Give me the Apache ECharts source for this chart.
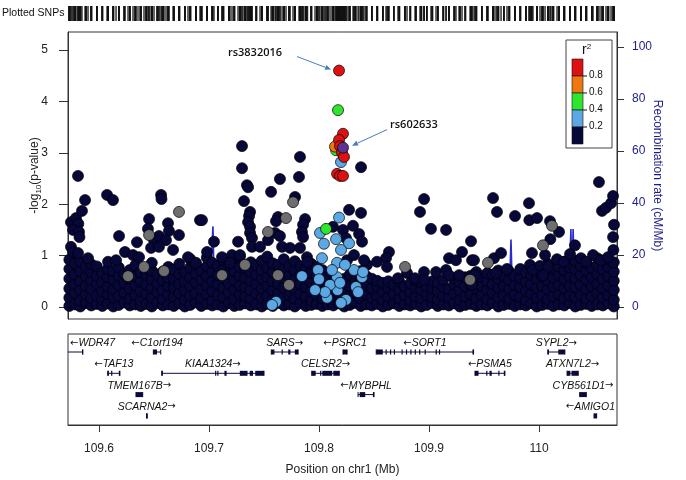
<!DOCTYPE html>
<html><head><meta charset="utf-8">
<script src="https://cdn.jsdelivr.net/npm/echarts@6/dist/echarts.min.js"></script>
<style>html,body{margin:0;padding:0;background:#fff}#c{width:686px;height:480px}</style>
</head><body><div id="c"></div><script>
// ---------------- DATA ----------------
const xMin = 109.5718, xMax = 110.0709;
const xTicks = [109.6, 109.7, 109.8, 109.9, 110];
const pTicks = [0, 1, 2, 3, 4, 5];
const recombTicks = [0, 20, 40, 60, 80, 100];
const ldBreaks = [0.2, 0.4, 0.6, 0.8];
const ldColors = ['#07073a', '#5ba8e4', '#2ee62e', '#ee7711', '#dd1111'];

// dense low band of r2<0.2 SNPs: [position (Mb), [-log10 p values]]
const snpsLowBand = [
[109.573,[0.02,0.18,0.36,0.55,0.74,0.92]],[109.578,[0.05,0.27,0.44,0.63,0.85]],[109.583,[0.01,0.12,0.33,0.51,0.7,0.88]],
[109.588,[0.08,0.24,0.41,0.6,0.78]],[109.593,[0.03,0.17,0.35,0.52,0.68,0.83]],[109.598,[0.06,0.22,0.45,0.61,0.79]],
[109.603,[0.02,0.14,0.3,0.49,0.66]],[109.608,[0.07,0.25,0.4,0.58,0.74]],[109.613,[0.01,0.19,0.34,0.53,0.7]],
[109.618,[0.04,0.21,0.43,0.6,0.77]],[109.623,[0.09,0.28,0.47,0.64]],[109.628,[0.03,0.16,0.36,0.55,0.72]],
[109.633,[0.05,0.23,0.42,0.59,0.81]],[109.638,[0.02,0.13,0.31,0.5,0.67]],[109.643,[0.06,0.26,0.44,0.62,0.76]],
[109.648,[0.01,0.18,0.37,0.54,0.71,0.86]],[109.653,[0.08,0.29,0.46,0.63]],[109.658,[0.03,0.15,0.33,0.52,0.69]],
[109.663,[0.05,0.24,0.41,0.57,0.78]],[109.668,[0.02,0.2,0.38,0.55,0.73]],[109.673,[0.07,0.27,0.45,0.64,0.84]],
[109.678,[0.01,0.14,0.32,0.5,0.68]],[109.683,[0.04,0.22,0.4,0.59,0.77,0.93]],[109.688,[0.09,0.26,0.48,0.65,0.82]],
[109.693,[0.02,0.17,0.35,0.53,0.71]],[109.698,[0.06,0.25,0.43,0.6,0.79,0.96]],[109.703,[0.03,0.13,0.31,0.5,0.69,0.86]],
[109.708,[0.05,0.23,0.44,0.62,0.8]],[109.713,[0.01,0.19,0.37,0.56,0.74,0.91]],[109.718,[0.08,0.28,0.46,0.64,0.83]],
[109.723,[0.02,0.15,0.34,0.52,0.7,0.88]],[109.728,[0.04,0.24,0.42,0.61,0.78,0.97]],[109.733,[0.07,0.21,0.39,0.57,0.75]],
[109.738,[0.03,0.16,0.33,0.51,0.69,0.87]],[109.743,[0.05,0.26,0.45,0.63,0.81]],[109.748,[0.01,0.18,0.36,0.55,0.72,0.9]],
[109.753,[0.06,0.22,0.41,0.59,0.77,0.98]],[109.758,[0.02,0.14,0.32,0.5,0.68,0.85]],[109.763,[0.08,0.27,0.46,0.64,0.82]],
[109.768,[0.03,0.19,0.38,0.56,0.74,0.93]],[109.773,[0.05,0.23,0.43,0.61,0.79]],[109.778,[0.01,0.16,0.35,0.53,0.71,0.89]],
[109.783,[0.07,0.25,0.44,0.62,0.8]],[109.788,[0.02,0.2,0.39,0.57,0.75]],[109.793,[0.04,0.13,0.31,0.48,0.66,0.84]],
[109.798,[0.06,0.24,0.42,0.6,0.78]],[109.803,[0.02,0.17,0.36,0.54,0.72]],[109.808,[0.05,0.22,0.4,0.58]],
[109.813,[0.03,0.15,0.33,0.49]],[109.818,[0.07,0.26,0.44]],[109.823,[0.01,0.19,0.37,0.55]],
[109.828,[0.04,0.21,0.41,0.63]],[109.833,[0.08,0.28,0.47,0.65]],[109.838,[0.02,0.16,0.34,0.52,0.7]],
[109.843,[0.05,0.24,0.42,0.6]],[109.848,[0.03,0.18,0.36,0.55]],[109.853,[0.06,0.22,0.4,0.51]],
[109.858,[0.01,0.14,0.3,0.47]],[109.863,[0.04,0.2,0.37,0.5]],[109.868,[0.07,0.25,0.43]],
[109.873,[0.02,0.16,0.33,0.49]],[109.878,[0.05,0.23,0.4]],[109.883,[0.03,0.13,0.29,0.46]],
[109.888,[0.06,0.21,0.38,0.52]],[109.893,[0.01,0.17,0.34,0.48]],[109.898,[0.04,0.24,0.41]],
[109.903,[0.08,0.19,0.36,0.5]],[109.908,[0.02,0.15,0.31,0.47]],[109.913,[0.05,0.22,0.39,0.53]],
[109.918,[0.03,0.18,0.35]],[109.923,[0.07,0.26,0.44,0.56]],[109.928,[0.01,0.14,0.32,0.49]],
[109.933,[0.04,0.21,0.4,0.58]],[109.938,[0.06,0.25,0.43,0.61]],[109.943,[0.02,0.17,0.36,0.52,0.68]],
[109.948,[0.05,0.23,0.41,0.59]],[109.953,[0.03,0.15,0.34,0.5,0.66]],[109.958,[0.08,0.27,0.45,0.63]],
[109.963,[0.01,0.19,0.38,0.55,0.71]],[109.968,[0.04,0.22,0.42,0.6]],[109.973,[0.06,0.16,0.35,0.53,0.69]],
[109.978,[0.02,0.24,0.43,0.61]],[109.983,[0.05,0.2,0.39,0.57,0.74]],[109.988,[0.03,0.13,0.31,0.5,0.67]],
[109.993,[0.07,0.26,0.44,0.62,0.78]],[109.998,[0.01,0.18,0.37,0.55,0.72]],[110.003,[0.04,0.23,0.41,0.59,0.76]],
[110.008,[0.06,0.15,0.34,0.52,0.7,0.84]],[110.013,[0.02,0.21,0.4,0.58,0.75]],[110.018,[0.05,0.25,0.43,0.61,0.79]],
[110.023,[0.03,0.17,0.36,0.54,0.72,0.88]],[110.028,[0.08,0.22,0.41,0.6,0.77]],[110.033,[0.01,0.19,0.38,0.56,0.74,0.9]],
[110.038,[0.04,0.24,0.44,0.62,0.8]],[110.043,[0.06,0.16,0.35,0.53,0.71,0.86]],[110.048,[0.02,0.21,0.4,0.58,0.76]],
[110.053,[0.05,0.27,0.45,0.63,0.81,0.95]],[110.058,[0.03,0.18,0.37,0.55,0.73]],[110.063,[0.07,0.23,0.42,0.6,0.78,0.92]],
[110.068,[0.01,0.14,0.33,0.51,0.69,0.87]]
];
// scattered r2<0.2 SNPs above the band
const snpsLowScattered = [
[109.5809,2.55],[109.5745,1.65],[109.5791,1.73],[109.5812,1.62],[109.5764,1.5],[109.5818,1.46],[109.5822,1.36],
[109.5745,1.17],[109.5764,1.07],[109.5809,1.05],[109.59,0.95],[109.5873,2.08],[109.5845,1.87],[109.6073,2.18],
[109.6127,2.08],[109.6182,1.38],[109.6345,1.26],[109.6564,2.18],[109.6568,2.1],[109.6918,1.69],[109.6455,1.71],
[109.6445,1.52],[109.6627,1.63],[109.6636,1.48],[109.6727,1.4],[109.65,1.3],[109.6545,1.38],[109.6609,1.3],
[109.6473,1.15],[109.6545,1.17],[109.6673,1.11],[109.6236,1.07],[109.6309,1.01],[109.6364,0.97],[109.6809,0.97],
[109.6882,0.86],[109.6082,0.88],[109.6155,0.91],
[109.73,3.13],[109.73,2.7],[109.7827,2.92],[109.7818,2.53],[109.7645,2.49],[109.7345,2.37],[109.7355,2.33],
[109.7564,2.24],[109.7318,2.06],[109.7782,2.14],[109.7373,1.85],[109.7364,1.77],[109.7355,1.65],[109.7373,1.56],
[109.6936,1.69],[109.7627,1.75],[109.7609,1.67],[109.7873,1.71],[109.7855,1.6],[109.7845,1.46],[109.7855,1.36],
[109.76,1.44],[109.7645,1.38],[109.7045,1.27],[109.7264,1.27],[109.7373,1.44],[109.7391,1.34],[109.7391,1.17],
[109.7464,1.17],[109.7536,1.3],[109.7664,1.17],[109.7736,1.15],[109.7827,1.15],[109.7891,0.97],[109.7895,0.88],
[109.6982,1.07],[109.7118,0.97],[109.7209,1.01],[109.7282,1.01],[109.7191,0.86],[109.8127,1.56],
[109.8382,2.72],[109.8955,2.1],[109.8918,1.85],[109.9018,1.52],[109.9155,1.5],[109.8273,1.89],[109.8382,1.83],
[109.8309,1.58],[109.8218,1.5],[109.8364,1.42],[109.8391,1.27],[109.8245,1.34],[109.8636,1.07],[109.8609,0.95],
[109.8527,0.88],[109.8436,0.82],[109.9382,1.28],[109.93,1.07],[109.9182,0.95],[109.9245,0.91],[109.9391,0.91],
[109.8618,0.78],[109.88,0.66],[109.8955,0.68],[109.9064,0.68],[109.9155,0.72],[109.9182,0.62],[109.9273,0.62],
[109.8718,0.56],[109.8873,0.56],[109.8955,0.53],[109.8255,0.91],[109.8318,1.01],[109.8409,0.91],
[110.0545,2.43],[109.9582,2.12],[109.9618,1.85],[109.9782,1.77],[109.9909,2.02],[109.9912,1.69],[109.9982,1.73],
[110.01,1.67],[110.0182,1.46],[110.0103,1.32],[110.0055,1.01],[109.9936,1.05],[110.0164,0.93],[110.0227,0.88],
[110.0573,1.87],[110.0609,1.93],[110.0655,2.02],[110.0673,2.16],[110.0682,1.6],[110.0673,1.36],[110.0676,1.11],
[110.0327,1.2],[110.0282,1.03],[110.0382,0.95],[110.0491,1.01],[109.9409,0.91],[109.9591,0.95],[109.9655,1.05],
[109.9609,0.66],[109.9418,0.62],[109.9391,0.43],[109.9709,0.74],[109.9918,0.82],[109.9945,0.72],[110.0009,0.8],
[110.0082,0.78],[110.0036,0.62],[110.0427,0.88],[110.0564,0.91],[110.0627,0.97]
];
const snpsNoLD = [
[109.6727,1.85],[109.6455,1.4],[109.6409,0.78],[109.6591,0.7],[109.6264,0.6],[109.7764,2.04],[109.77,1.73],
[109.7536,1.46],[109.7327,0.82],[109.7118,0.62],[109.7627,0.62],[109.7727,0.43],[109.8782,0.78],[110.0118,1.58],
[110.0036,1.2],[109.9536,0.86],[109.9373,0.53]
];
const snpsLD02 = [
[109.8009,1.44],[109.8045,1.23],[109.8155,1.32],[109.8182,1.74],[109.82,2.82],[109.8273,1.24],[109.8164,0.86],
[109.7845,0.6],[109.7991,0.72],[109.8,0.54],[109.8073,0.18],[109.7609,0.1],[109.7573,0.04],[109.8318,0.72],
[109.8391,0.58],[109.84,0.68],[109.8336,0.39],[109.8355,0.29],[109.8245,0.14],[109.82,0.08],[109.8164,0.58],
[109.8168,0.33],[109.82,1.11],[109.81,0.43],[109.8055,0.29],[109.8191,0.47],[109.8118,0.72],[109.7964,0.33],
[109.8027,0.95],[109.8236,0.82]
];
const snpsLD04 = [[109.8173,3.83],[109.8155,3.05],[109.8064,1.52]];
const snpsLD06 = [[109.8145,3.12]];
const snpsLD08 = [[109.8182,4.6],[109.8218,3.37],[109.8182,3.25],[109.8191,3.13],[109.8209,3.0],[109.8227,2.92],
[109.8164,2.59],[109.8191,2.55],[109.8218,2.55]];
const refSNP = [[109.8218,3.1]];
const annotSNPs = ['rs3832016', 'rs602633'];
const annotPos = [109.8182, 109.8218];
const annotLogP = [4.6, 3.1];

const recombPos = [109.572,109.59,109.61,109.63,109.65,109.67,109.69,109.7,109.702,109.7036,109.705,109.72,109.74,109.76,
109.78,109.8,109.82,109.84,109.86,109.88,109.9,109.92,109.94,109.96,109.973,109.9745,109.976,109.99,110.01,110.027,
110.029,110.03,110.031,110.0325,110.045,110.06,110.071];
const recombRate = [1.2,0.8,2.1,0.5,1.5,0.9,3.2,5,17,31,2,1.1,0.6,1.8,0.7,0.4,2.5,0.9,0.3,1.2,0.6,1.5,0.8,2.2,4,26,3,1.0,1.6,3,30,8,30,4,1.2,2.0,0.8];

const geneNames  = ['WDR47','C1orf194','SARS','PSRC1','SORT1','SYPL2','TAF13','KIAA1324','CELSR2','PSMA5','ATXN7L2','TMEM167B','MYBPHL','CYB561D1','SCARNA2','AMIGO1'];
const geneStrand = ['-','-','+','-','-','+','-','+','+','-','+','+','-','+','+','-'];
const geneRow    = [0,0,0,0,0,0,1,1,1,1,1,2,2,2,3,3];
const geneStart  = [109.505,109.6494,109.7566,109.8218,109.852,110.008,109.6079,109.657,109.7934,109.9418,110.0255,109.6336,109.8355,110.037,109.6432,110.050];
const geneEnd    = [109.5852,109.6561,109.781,109.8255,109.9405,110.0235,109.619,109.750,109.8184,109.969,110.0357,109.6397,109.850,110.043,109.6436,110.0524];
const geneExons  = [
 [[109.5845,109.5852]],
 [[109.6494,109.6527]],
 [[109.7566,109.7595],[109.766,109.767],[109.772,109.774],[109.778,109.781]],
 [[109.8218,109.8255]],
 [[109.852,109.858],[109.8605,109.8615],[109.8645,109.8655],[109.868,109.869],[109.875,109.876],[109.879,109.88],[109.883,109.884],[109.887,109.888],[109.891,109.892],[109.896,109.897],[109.906,109.907],[109.909,109.91],[109.9395,109.9405]],
 [[110.008,110.009],[110.0175,110.0235]],
 [[109.6079,109.609],[109.611,109.612],[109.618,109.619]],
 [[109.657,109.658],[109.7055,109.7065],[109.7075,109.7085],[109.714,109.716],[109.728,109.735],[109.737,109.740],[109.742,109.750]],
 [[109.7934,109.797],[109.801,109.802],[109.803,109.812],[109.813,109.8184]],
 [[109.9418,109.945],[109.952,109.953],[109.955,109.957],[109.963,109.964],[109.968,109.969]],
 [[110.0255,110.0285],[110.0295,110.0355]],
 [[109.6336,109.6397]],
 [[109.837,109.842],[109.849,109.850]],
 [[110.037,110.043]],
 [[109.6432,109.6436]],
 [[110.050,110.0524]]
];

// ---------------- CHART ----------------
const FONT = '"Liberation Sans", Arial, sans-serif';
const chart = echarts.init(document.getElementById('c'), null, {renderer: 'canvas'});
const band = snpsLowBand.flatMap(([p, vs]) => vs.map(v => [p, v]));
const navy = band.concat(snpsLowScattered);
const rugData = [].concat(navy, snpsNoLD, snpsLD02, snpsLD04, snpsLD06, snpsLD08, refSNP).map(d => [d[0], 0.5]);
const recombData = recombPos.map((p, i) => [p, recombRate[i]]);

function ptSeries(data, color, z) {
  return {type: 'scatter', xAxisIndex: 1, yAxisIndex: 1, data, symbol: 'circle', symbolSize: 11,
    itemStyle: {color, borderColor: '#000', borderWidth: 0.7, opacity: 1}, z, silent: true};
}
const meas = document.createElement('canvas').getContext('2d');
const GENE_FONT = 'italic 10.5px "Liberation Sans"';
const ARROW_FONT = '10px "DejaVu Sans"';
const geneColor = '#0a0a3a';
function renderGene(params, api) {
  const i = params.dataIndex;
  const cs = params.coordSys;
  const lineY = cs.y + 18 + geneRow[i] * 21.3;
  const xs = api.coord([geneStart[i], 0])[0], xe = api.coord([geneEnd[i], 0])[0];
  const x0 = Math.max(xs, cs.x), x1 = Math.min(xe, cs.x + cs.width);
  const ch = [];
  ch.push({type: 'line', shape: {x1: x0, y1: lineY, x2: x1, y2: lineY}, style: {stroke: geneColor, lineWidth: 1}});
  [xs, xe].forEach(x => { if (x >= cs.x && x <= cs.x + cs.width) ch.push({type: 'line', shape: {x1: x, y1: lineY - 2.5, x2: x, y2: lineY + 2.5}, style: {stroke: geneColor, lineWidth: 1}}); });
  geneExons[i].forEach(([a, b]) => {
    const xa = api.coord([a, 0])[0], xb = api.coord([b, 0])[0];
    ch.push({type: 'rect', shape: {x: xa, y: lineY - 2.5, width: Math.max(xb - xa, 1.2), height: 5}, style: {fill: geneColor}});
  });
  const plus = geneStrand[i] === '+';
  const label = plus ? geneNames[i] + '{a|\u2192}' : '{a|\u2190}' + geneNames[i];
  meas.font = GENE_FONT;
  let w = meas.measureText(geneNames[i]).width;
  meas.font = ARROW_FONT;
  w += meas.measureText('\u2192').width;
  let cx = (x0 + x1) / 2;
  cx = Math.max(cs.x + 2 + w / 2, Math.min(cs.x + cs.width - 2 - w / 2, cx));
  ch.push({type: 'text', style: {text: label, x: cx, y: lineY - 9, align: 'center', verticalAlign: 'middle', font: GENE_FONT, fill: '#111',
    rich: {a: {font: ARROW_FONT, fill: '#111'}}}});
  return {type: 'group', children: ch};
}

const option = {
  animation: false,
  backgroundColor: '#fff',
  textStyle: {fontFamily: FONT},
  grid: [
    {left: 68, width: 549, top: 6, height: 15, show: false},
    {left: 68, width: 549, top: 32, height: 287, show: true, borderColor: '#333', borderWidth: 1, backgroundColor: 'transparent'},
    {left: 68, width: 549, top: 334, height: 91, show: true, borderColor: '#333', borderWidth: 1, backgroundColor: 'transparent'}
  ],
  xAxis: [
    {gridIndex: 0, type: 'value', min: xMin, max: xMax, show: false},
    {gridIndex: 1, type: 'value', min: xMin, max: xMax, show: false},
    {gridIndex: 2, type: 'value', min: xMin, max: xMax,
     axisLine: {show: true, onZero: false, lineStyle: {color: '#333'}},
     axisTick: {show: true, customValues: xTicks, length: 7, lineStyle: {color: '#333'}},
     axisLabel: {customValues: xTicks, margin: 18, fontSize: 12, color: '#222', fontFamily: FONT},
     splitLine: {show: false},
     name: 'Position on chr1 (Mb)', nameLocation: 'middle', nameGap: 39, nameMoveOverlap: false,
     nameTextStyle: {fontSize: 12, color: '#222', fontFamily: FONT}}
  ],
  yAxis: [
    {gridIndex: 0, type: 'value', min: 0, max: 1, show: false},
    {gridIndex: 1, type: 'value', min: -0.2335, max: 5.35, position: 'left',
     axisLine: {show: true, onZero: false, lineStyle: {color: '#333'}},
     axisTick: {show: true, customValues: pTicks, length: 9, lineStyle: {color: '#333'}},
     axisLabel: {customValues: pTicks, margin: 20, fontSize: 12, color: '#222', fontFamily: FONT},
     splitLine: {show: false},
     name: '-log{sub|10}(p-value)', nameLocation: 'middle', nameGap: 25, nameRotate: 90, nameMoveOverlap: false,
     nameTextStyle: {fontSize: 12, color: '#222', fontFamily: FONT, lineHeight: 16,
       rich: {sub: {fontSize: 8, lineHeight: 8, verticalAlign: 'bottom', color: '#222', fontFamily: FONT}}}},
    {gridIndex: 1, type: 'value', min: -4.615, max: 105.77, position: 'right',
     axisLine: {show: true, onZero: false, lineStyle: {color: '#333'}},
     axisTick: {show: true, customValues: recombTicks, length: 7, lineStyle: {color: '#333'}},
     axisLabel: {customValues: recombTicks, margin: 15, fontSize: 12, color: '#1c1c8c', fontFamily: FONT},
     splitLine: {show: false},
     name: 'Recombination rate (cM/Mb)', nameLocation: 'middle', nameGap: 34, nameRotate: -90, nameMoveOverlap: false,
     nameTextStyle: {fontSize: 12, color: '#1c1c8c', fontFamily: FONT}},
    {gridIndex: 2, type: 'value', min: 0, max: 1, show: false}
  ],
  series: [
    {type: 'scatter', xAxisIndex: 0, yAxisIndex: 0, data: rugData, symbol: 'rect', symbolSize: [1.6, 15],
     itemStyle: {color: '#111'}, silent: true},
    {type: 'line', xAxisIndex: 1, yAxisIndex: 2, data: recombData, showSymbol: false, symbol: 'none',
     lineStyle: {color: '#2b2bcc', width: 1.6}, z: 1, silent: true},
    ptSeries(navy, ldColors[0], 2),
    ptSeries(snpsNoLD, '#6e6e6e', 3),
    ptSeries(snpsLD02, ldColors[1], 4),
    ptSeries(snpsLD04, ldColors[2], 5),
    ptSeries(snpsLD06, ldColors[3], 6),
    ptSeries(snpsLD08, ldColors[4], 7),
    ptSeries(refSNP, '#5b3294', 8),
    {type: 'custom', xAxisIndex: 2, yAxisIndex: 3, data: geneNames.map((n, i) => [geneEnd[i], 0.5]),
     renderItem: renderGene, silent: true, clip: false}
  ]
};
chart.setOption(option);

// ---- legend, annotations, rug label (positions derived from the chart) ----
const g = [];
g.push({type: 'text', left: 2, top: 8, style: {text: 'Plotted SNPs', font: '10.5px "Liberation Sans"', fill: '#111'}});
// r2 legend
const LX = 566, LY = 40, blockH = 17;
g.push({type: 'rect', shape: {x: LX, y: LY, width: 46, height: 108}, style: {fill: '#fff', stroke: '#444', lineWidth: 1}, z: 50});
g.push({type: 'text', x: LX + 16, y: LY + 3, style: {text: 'r{s|2}', font: '14px "Liberation Sans"', fill: '#111',
  rich: {s: {fontSize: 8, verticalAlign: 'top', lineHeight: 8}}}, z: 51});
for (let k = 0; k < ldColors.length; k++) {
  const col = ldColors[ldColors.length - 1 - k];
  g.push({type: 'rect', shape: {x: LX + 6, y: LY + 19 + k * blockH, width: 11, height: blockH},
    style: {fill: col, stroke: '#111', lineWidth: 0.6}, z: 51});
}
ldBreaks.slice().reverse().forEach((b, k) => {
  const y = LY + 19 + (k + 1) * blockH;
  g.push({type: 'line', shape: {x1: LX + 17, y1: y, x2: LX + 21, y2: y}, style: {stroke: '#111', lineWidth: 1}, z: 51});
  g.push({type: 'text', x: LX + 23, y: y - 6, style: {text: b.toFixed(1), font: '10px "Liberation Sans"', fill: '#111'}, z: 51});
});
// annotations
const arrowColor = '#4a7ebb';
function arrow(x1, y1, x2, y2) {
  const a = Math.atan2(y2 - y1, x2 - x1), L = 6, W = 2.6;
  const bx = x2 - L * Math.cos(a), by = y2 - L * Math.sin(a);
  g.push({type: 'line', shape: {x1, y1, x2: bx, y2: by}, style: {stroke: arrowColor, lineWidth: 1}, z: 40});
  g.push({type: 'polygon', shape: {points: [[x2, y2], [bx - W * Math.sin(a), by + W * Math.cos(a)], [bx + W * Math.sin(a), by - W * Math.cos(a)]]},
    style: {fill: arrowColor}, z: 40});
}
const ANN_FONT = '600 11px "Open Sans"';
const t0 = chart.convertToPixel({gridIndex: 1}, [annotPos[0], annotLogP[0]]);
arrow(t0[0] - 42, t0[1] - 14, t0[0] - 8, t0[1] - 1);
g.push({type: 'text', x: t0[0] - 57, y: t0[1] - 18, style: {text: annotSNPs[0], font: ANN_FONT, fill: '#111', align: 'right', verticalAlign: 'middle'}, z: 40});
const t1 = chart.convertToPixel({gridIndex: 1}, [annotPos[1], annotLogP[1]]);
arrow(t1[0] + 44, t1[1] - 18, t1[0] + 9, t1[1] - 2);
g.push({type: 'text', x: t1[0] + 47, y: t1[1] - 23, style: {text: annotSNPs[1], font: ANN_FONT, fill: '#111', align: 'left', verticalAlign: 'middle'}, z: 40});
chart.setOption({graphic: g});
</script></body></html>
